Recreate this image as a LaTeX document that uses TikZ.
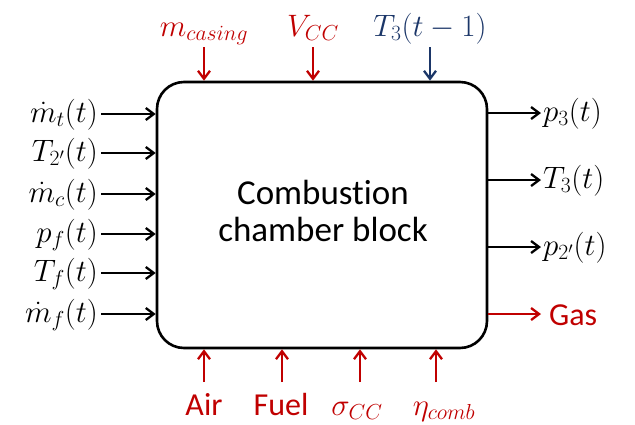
\RequirePackage{fix-cm}
\documentclass[tikz,border=0pt]{standalone}
\usepackage{fontspec}
\setmainfont{Carlito}[Ligatures=NoCommon]
\usetikzlibrary{arrows.meta}
\definecolor{ccred}{HTML}{C00000}
\definecolor{ccblue}{HTML}{1B3668}
\begin{document}
\begin{tikzpicture}[x=1pt,y=-1pt,
  arr/.style={line width=2.3pt,-{Straight Barb[length=8pt,width=12pt]}},
  mlab/.style={font=\fontsize{31}{35}\selectfont, inner sep=0pt},
  slab/.style={font=\fontsize{32}{36}\selectfont, inner sep=0pt},
]
\useasboundingbox (0,0) rectangle (635,424);
\node[draw, line width=2.6pt, rounded corners=27pt, minimum width=330pt, minimum height=266pt] (box) at (322,215) {};
\node[align=center, font=\fontsize{35}{37}\selectfont, inner sep=0pt] (title) at (323,211) {Combustion\\chamber block};

% left inputs
\foreach \i/\y/\t in {1/114/{\dot{m}_t(t)}, 2/153/{T_{2'}(t)}, 3/194/{\dot{m}_c(t)}, 4/234/{p_f(t)}, 5/273/{T_f(t)}, 6/314/{\dot{m}_f(t)}} {
  \coordinate (l\i) at (101,\y);
  \node[mlab, anchor=base east] (L\i) at (98,\y+8) {$\t$};
  \draw[arr] (l\i) -- (l\i -| box.west);
}

% right outputs
\foreach \i/\y/\t in {1/113/{p_3(t)}, 2/180/{T_3(t)}, 3/247/{p_{2'}(t)}} {
  \coordinate (r\i) at (541,\y);
  \node[mlab, anchor=base west] (R\i) at (543,\y+8) {$\t$};
  \draw[arr] (r\i -| box.east) -- (r\i);
}
\coordinate (r4) at (541,314);
\node[slab, anchor=base west, text=ccred] (R4) at (549,325) {Gas};
\draw[arr, ccred] (r4 -| box.east) -- (r4);

% top inputs
\coordinate (t1) at (204,47);
\coordinate (t2) at (313,47);
\coordinate (t3) at (430,47);
\node[mlab, anchor=base, text=ccred] (T1) at (204,36) {$m_{casing}$};
\node[mlab, anchor=base, text=ccred] (T2) at (313,36) {$V_{CC}$};
\node[mlab, anchor=base, text=ccblue] (T3) at (430,36) {$T_3(t-1)$};
\draw[arr, ccred] (t1) -- (t1 |- box.north);
\draw[arr, ccred] (t2) -- (t2 |- box.north);
\draw[arr, ccblue] (t3) -- (t3 |- box.north);

% bottom inputs
\foreach \i/\x in {1/204, 2/282, 3/360, 4/436} {
  \coordinate (b\i) at (\x,382);
  \draw[arr, ccred] (b\i) -- (b\i |- box.south);
}
\node[slab, anchor=base, text=ccred] (B1) at (204,415) {Air};
\node[slab, anchor=base, text=ccred] (B2) at (281,415) {Fuel};
\node[mlab, anchor=base, text=ccred] (B3) at (357,415) {$\sigma_{CC}$};
\node[mlab, anchor=base, text=ccred] (B4) at (444,415) {$\eta_{comb}$};
\end{tikzpicture}
\end{document}
